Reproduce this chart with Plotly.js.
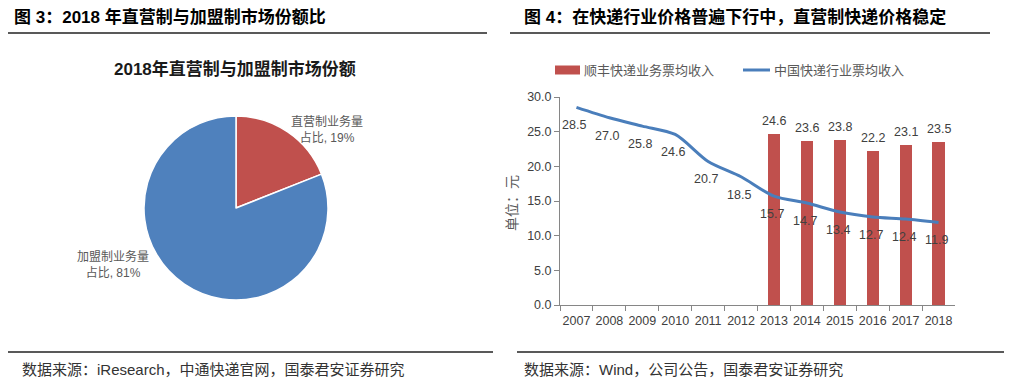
<!DOCTYPE html>
<html>
<head>
<meta charset="utf-8">
<script src="https://cdn.plot.ly/plotly-3.0.1.min.js"></script>
<style>html,body{margin:0;padding:0;background:#fff;}#chart{width:1017px;height:389px;}</style>
</head>
<body>
<div id="chart"></div>
<script>
// ---- data ----
var pieLabels = ["直营制业务量占比", "加盟制业务量占比"];
var pieValues = [19, 81];
var pieText = ["直营制业务量<br>占比, 19%", "加盟制业务量<br>占比, 81%"];

var years = ["2007","2008","2009","2010","2011","2012","2013","2014","2015","2016","2017","2018"];
var sfYears = ["2013","2014","2015","2016","2017","2018"];
var sfValues = [24.6, 23.6, 23.8, 22.2, 23.1, 23.5];
var industryValues = [28.5, 27.0, 25.8, 24.6, 20.7, 18.5, 15.7, 14.7, 13.4, 12.7, 12.4, 11.9];
var seriesNames = ["顺丰快递业务票均收入", "中国快递行业票均收入"];
var yTicks = [0, 5, 10, 15, 20, 25, 30];

// ---- helpers ----
var W = 1017, H = 389;
function px(x){ return x / W; }
function py(y){ return 1 - y / H; }
var FONT = "Liberation Sans, Noto Sans CJK SC, sans-serif";
var RED = "#c0504d", BLUE = "#4a7ebb";

var traces = [
  {
    type: "pie",
    labels: pieLabels,
    values: pieValues,
    sort: false,
    direction: "clockwise",
    rotation: 0,
    textinfo: "none",
    hoverinfo: "label+percent",
    marker: { colors: [RED, "#4f81bd"], line: { color: "#ffffff", width: 1.5 } },
    domain: { x: [px(144), px(328)], y: [py(300), py(116)] },
    showlegend: false
  },
  {
    type: "bar",
    x: sfYears,
    y: sfValues,
    name: seriesNames[0],
    marker: { color: RED },
    width: 0.37,
    xaxis: "x", yaxis: "y",
    showlegend: false
  },
  {
    type: "scatter",
    mode: "lines",
    x: years,
    y: industryValues,
    name: seriesNames[1],
    line: { color: BLUE, width: 3, shape: "spline", smoothing: 0.8 },
    xaxis: "x", yaxis: "y",
    showlegend: false
  }
];

var annotations = [];
// main titles
annotations.push({ xref:"paper", yref:"paper", x:px(12), y:py(17), xanchor:"left", yanchor:"middle", showarrow:false,
  text:"<b>图 3：2018 年直营制与加盟制市场份额比</b>", font:{ family:FONT, size:17, color:"#000" } });
annotations.push({ xref:"paper", yref:"paper", x:px(522), y:py(17), xanchor:"left", yanchor:"middle", showarrow:false,
  text:"<b>图 4：在快递行业价格普遍下行中，直营制快递价格稳定</b>", font:{ family:FONT, size:17, color:"#000" } });
// pie title
annotations.push({ xref:"paper", yref:"paper", x:px(235), y:py(69), xanchor:"center", yanchor:"middle", showarrow:false,
  text:"<b>2018年直营制与加盟制市场份额</b>", font:{ family:FONT, size:17, color:"#1a1a1a" } });
// pie labels
annotations.push({ xref:"paper", yref:"paper", x:px(327), y:py(129.5), xanchor:"center", yanchor:"middle", showarrow:false,
  text:pieText[0], align:"center", font:{ family:FONT, size:12, color:"#595959" } });
annotations.push({ xref:"paper", yref:"paper", x:px(113), y:py(264.5), xanchor:"center", yanchor:"middle", showarrow:false,
  text:pieText[1], align:"center", font:{ family:FONT, size:12, color:"#595959" } });
// sources
annotations.push({ xref:"paper", yref:"paper", x:px(20), y:py(369), xanchor:"left", yanchor:"middle", showarrow:false,
  text:"数据来源：iResearch，中通快递官网，国泰君安证券研究", font:{ family:FONT, size:15, color:"#333" } });
annotations.push({ xref:"paper", yref:"paper", x:px(522), y:py(369), xanchor:"left", yanchor:"middle", showarrow:false,
  text:"数据来源：Wind，公司公告，国泰君安证券研究", font:{ family:FONT, size:15, color:"#333" } });
// legend texts
annotations.push({ xref:"paper", yref:"paper", x:px(582), y:py(70), xanchor:"left", yanchor:"middle", showarrow:false,
  text:seriesNames[0], font:{ family:FONT, size:13, color:"#595959" } });
annotations.push({ xref:"paper", yref:"paper", x:px(772), y:py(70), xanchor:"left", yanchor:"middle", showarrow:false,
  text:seriesNames[1], font:{ family:FONT, size:13, color:"#595959" } });
// y-axis title
annotations.push({ xref:"paper", yref:"paper", x:px(512), y:py(203), xanchor:"center", yanchor:"middle", showarrow:false,
  textangle:-90, text:"单位：元", font:{ family:FONT, size:14, color:"#595959" } });
// data labels (category axes take the category index)
for (var i = 0; i < sfYears.length; i++) {
  annotations.push({ xref:"x", yref:"y", x:years.indexOf(sfYears[i]), y:sfValues[i], yanchor:"middle", yshift:13, showarrow:false,
    text:sfValues[i].toFixed(1), font:{ family:FONT, size:12.5, color:"#404040" } });
}
for (var j = 0; j < years.length; j++) {
  annotations.push({ xref:"x", yref:"y", x:j, y:industryValues[j], yanchor:"middle", yshift:-18, xshift:-2, showarrow:false,
    text:industryValues[j].toFixed(1), font:{ family:FONT, size:12.5, color:"#404040" } });
}

var shapes = [
  // header lines
  { type:"line", xref:"paper", yref:"paper", x0:px(8), x1:px(487), y0:py(33), y1:py(33), line:{ color:"#222", width:1.5 } },
  { type:"line", xref:"paper", yref:"paper", x0:px(510), x1:px(990), y0:py(33), y1:py(33), line:{ color:"#222", width:1.5 } },
  // footer lines
  { type:"line", xref:"paper", yref:"paper", x0:px(8), x1:px(493), y0:py(352), y1:py(352), line:{ color:"#222", width:1.5 } },
  { type:"line", xref:"paper", yref:"paper", x0:px(517), x1:px(1004), y0:py(352), y1:py(352), line:{ color:"#222", width:1.5 } },
  // legend symbols
  { type:"rect", xref:"paper", yref:"paper", x0:px(555), x1:px(580), y0:py(74.5), y1:py(65.5), fillcolor:RED, line:{ width:0 } },
  { type:"line", xref:"paper", yref:"paper", x0:px(743), x1:px(770), y0:py(70), y1:py(70), line:{ color:BLUE, width:3 } }
];

var layout = {
  width: W, height: H,
  margin: { l:0, r:0, t:0, b:0 },
  paper_bgcolor: "#ffffff",
  plot_bgcolor: "#ffffff",
  showlegend: false,
  bargap: 0,
  xaxis: {
    domain: [px(560), px(955)],
    type: "category",
    categoryorder: "array",
    categoryarray: years,
    range: [-0.5, 11.5],
    showline: true, linecolor: "#868686", linewidth: 1,
    ticks: "outside", ticklen: 5, tickcolor: "#868686",
    tickson: "boundaries",
    tickangle: 0,
    ticklabelstandoff: 4,
    showgrid: false, zeroline: false,
    tickfont: { family: FONT, size: 12.5, color: "#404040" },
    fixedrange: true
  },
  yaxis: {
    domain: [py(305), py(97)],
    range: [0, 30],
    tickvals: yTicks,
    tickformat: ".1f",
    showline: true, linecolor: "#868686", linewidth: 1,
    ticks: "outside", ticklen: 5, tickcolor: "#868686",
    showgrid: false, zeroline: false,
    tickfont: { family: FONT, size: 12.5, color: "#404040" },
    fixedrange: true
  },
  annotations: annotations,
  shapes: shapes
};

Plotly.newPlot("chart", traces, layout, { displayModeBar: false, staticPlot: true });
</script>
</body>
</html>
